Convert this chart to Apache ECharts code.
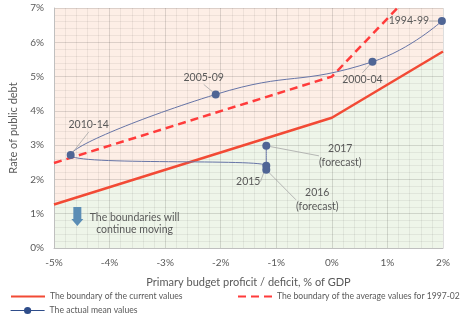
<!DOCTYPE html>
<html><head><meta charset="utf-8">
<style>html,body{margin:0;padding:0;background:#fff}#c{width:462px;height:322px}</style>
<script src="https://cdn.jsdelivr.net/npm/echarts@6/dist/echarts.min.js"></script>
</head><body><div id="c"></div>
<script>
// ---- data ----
const xTickMin = -5, xTickMax = 2;
const yTickMin = 0, yTickMax = 7;
const currentX = [-5, 0, 2];
const currentY = [1.27, 3.80, 5.73];
const averageX = [-5, 0, 1.18];
const averageY = [2.48, 5.00, 7.00];
const periods = ['1994-99', '2000-04', '2005-09', '2010-14', '2015', '2016\n(forecast)', '2017\n(forecast)'];
const meanX = [1.98, 0.73, -2.09, -4.70, -1.18, -1.18, -1.18];
const meanY = [6.62, 5.43, 4.48, 2.71, 2.40, 2.28, 2.98];
const seriesNames = ['The boundary of the current values', 'The boundary of the average values for 1997-02', 'The actual mean values'];
const noteText = 'The boundaries will\ncontinue moving';
const noteAnchor = [-4.58, 0.64];
const noteTextAnchor = [-3.55, 0.70];

// ---- style (label offsets in px) ----
const labelOffsets = [[-33, 0], [-10, 18], [-12, -17], [18, -30], [-18, 16], [51, 30], [74, 10]];
const FONT = 'Lato, "Open Sans", sans-serif';
const TXT = '#595959';

const pairs = (xs, ys) => xs.map((x, i) => [x, ys[i]]);
const chart = echarts.init(document.getElementById('c'), null, {renderer: 'canvas'});
const legendText = {color: TXT, fontSize: 8.6, fontFamily: FONT, overflow: 'none'};

chart.setOption({
  animation: false,
  textStyle: {fontFamily: FONT},
  grid: {left: 49, right: 19, top: 8, bottom: 74, containLabel: false},
  xAxis: {
    type: 'value', min: xTickMin, max: xTickMax, interval: 1,
    name: 'Primary budget proficit / deficit, % of GDP', nameLocation: 'middle', nameGap: 29,
    nameTextStyle: {color: TXT, fontSize: 11, fontFamily: FONT},
    axisLine: {show: true, onZero: false, lineStyle: {color: '#bfbfbf'}},
    axisTick: {show: false},
    axisLabel: {formatter: v => v + '%', color: TXT, fontSize: 10, margin: 10, fontFamily: FONT},
    splitLine: {show: true, lineStyle: {color: 'rgba(0,0,0,0.13)', width: 1}},
    minorTick: {show: false, splitNumber: 5},
    minorSplitLine: {show: true, lineStyle: {color: 'rgba(0,0,0,0.06)', width: 1}}
  },
  yAxis: {
    type: 'value', min: yTickMin, max: yTickMax, interval: 1,
    name: 'Rate of public debt', nameLocation: 'middle', nameGap: 35, nameRotate: 90,
    nameTextStyle: {color: TXT, fontSize: 11, fontFamily: FONT},
    axisLine: {show: true, onZero: false, lineStyle: {color: '#bfbfbf'}},
    axisTick: {show: false},
    axisLabel: {formatter: v => v + '%', color: TXT, fontSize: 10, margin: 10, fontFamily: FONT},
    splitLine: {show: true, lineStyle: {color: 'rgba(0,0,0,0.13)', width: 1}},
    minorTick: {show: false, splitNumber: 5},
    minorSplitLine: {show: true, lineStyle: {color: 'rgba(0,0,0,0.06)', width: 1}}
  },
  legend: [
    {data: [{name: seriesNames[0], itemStyle: {opacity: 0}}], left: 10, top: 292, padding: 0, itemWidth: 34, itemHeight: 10,
     textStyle: legendText, selectedMode: false},
    {data: [{name: seriesNames[1], itemStyle: {opacity: 0}}], left: 237, top: 292, padding: 0, itemWidth: 34, itemHeight: 10,
     textStyle: legendText, selectedMode: false},
    {data: [{name: seriesNames[2], itemStyle: {color: '#2f4d8a'}, lineStyle: {color: '#2f4d8a', width: 1.2}}], left: 10, top: 306, padding: 0, itemWidth: 34, itemHeight: 9,
     textStyle: legendText, selectedMode: false}
  ],
  series: [
    {type: 'line', name: 'fillLow', data: pairs(currentX, currentY), symbol: 'none', silent: true, z: -1,
     lineStyle: {width: 0}, areaStyle: {color: '#eef5e9', opacity: 1, origin: 'start'}},
    {type: 'line', name: 'fillHigh', data: pairs(currentX, currentY), symbol: 'none', silent: true, z: -1,
     lineStyle: {width: 0}, areaStyle: {color: '#fdeee6', opacity: 1, origin: 'end'}},
    {type: 'line', name: seriesNames[0], data: pairs(currentX, currentY), symbol: 'none', z: 3,
     color: '#f24a35', lineStyle: {color: '#f24a35', width: 2.5}},
    {type: 'line', name: seriesNames[1], data: pairs(averageX, averageY), symbol: 'none', z: 3, clip: true,
     color: '#ff3b3b', lineStyle: {color: '#ff3b3b', width: 2.5, type: [8, 5]}},
    {type: 'line', name: seriesNames[2], z: 4, smooth: 0.5,
     data: periods.map((p, i) => ({name: p, value: [meanX[i], meanY[i]]})),
     symbol: 'circle', symbolSize: 8,
     color: '#4f6595',
     itemStyle: {color: '#4f6595'},
     lineStyle: {color: '#6674a6', width: 1},
     label: {show: true, position: 'inside', formatter: p => p.name, color: TXT, fontSize: 10.5, fontFamily: FONT, lineHeight: 14},
     labelLine: {show: true, lineStyle: {color: '#a6a6a6', width: 0.8}},
     labelLayout: p => ({dx: labelOffsets[p.dataIndex][0], dy: labelOffsets[p.dataIndex][1]})}
  ]
});

const a = chart.convertToPixel({gridIndex: 0}, noteAnchor);
const t = chart.convertToPixel({gridIndex: 0}, noteTextAnchor);
chart.setOption({
  graphic: [
    {type: 'polygon', z: 10, shape: {points: [
      [a[0] - 4, a[1] - 19], [a[0] + 4, a[1] - 19], [a[0] + 4, a[1] - 7], [a[0] + 6, a[1] - 7],
      [a[0], a[1]], [a[0] - 6, a[1] - 7], [a[0] - 4, a[1] - 7]]},
     style: {fill: '#5b8db5'}},
    {type: 'text', z: 10, x: t[0], y: t[1], style: {text: noteText, fill: TXT, font: '10.5px ' + FONT, align: 'center', verticalAlign: 'middle', lineHeight: 12}}
  ]
});
</script></body></html>
